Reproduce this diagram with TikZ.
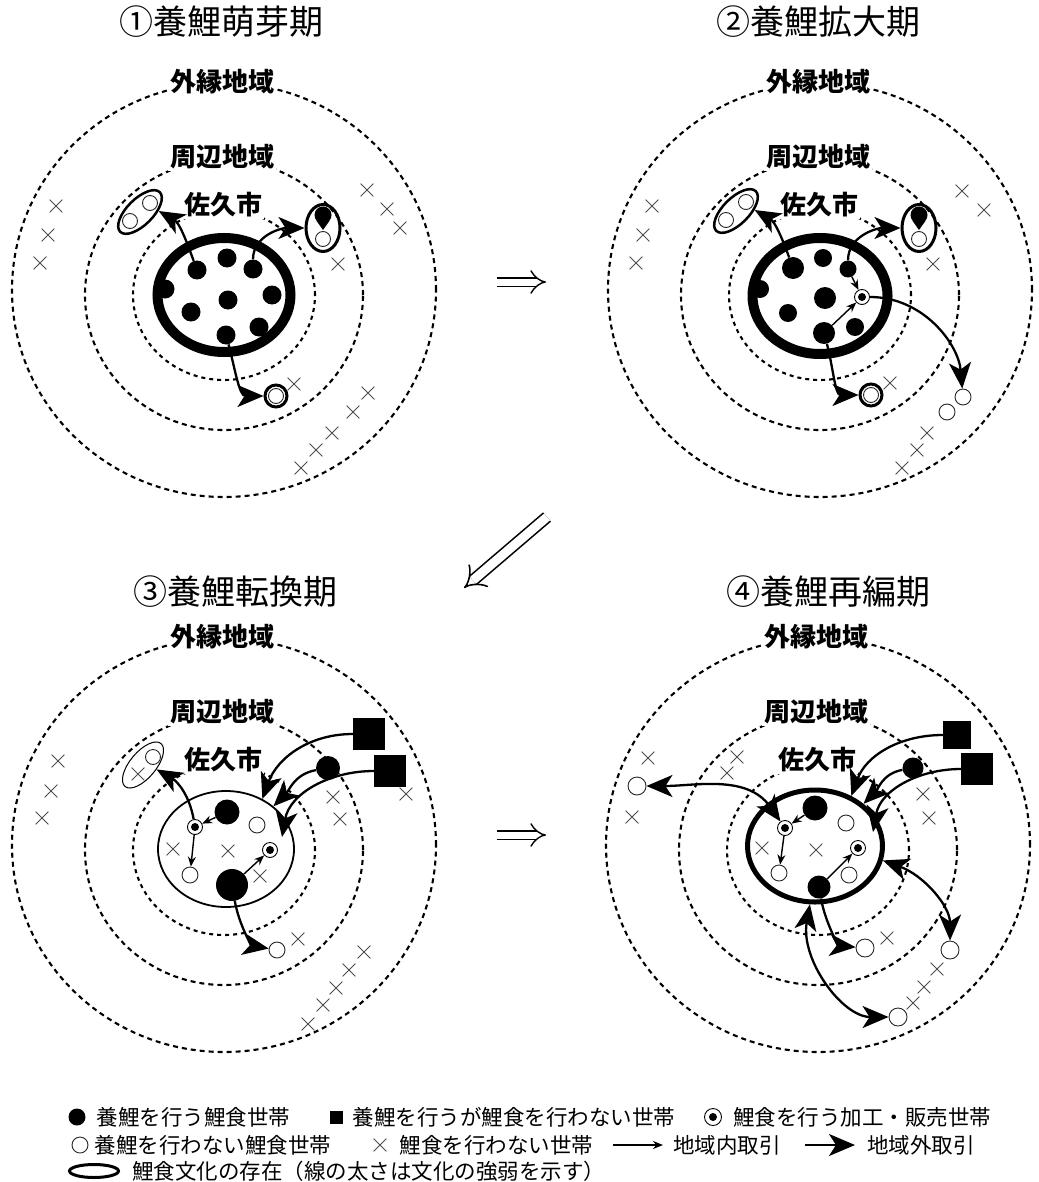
\documentclass[tikz,border=0pt]{standalone}
\usepackage{fontspec}
\newfontfamily\gothic{Noto Sans CJK JP}
\usetikzlibrary{arrows.meta,shapes.geometric,shapes.misc,positioning}

\tikzset{
  zoneline/.style={line width=2.1pt, dash pattern=on 5pt off 4pt},
  zonelabel/.style={fill=white, inner sep=2pt, font=\gothic\bfseries\fontsize{26}{26}\selectfont},
  paneltitle/.style={font=\gothic\fontsize{34}{34}\selectfont},
  legendtext/.style={inner sep=0pt, font=\gothic\fontsize{21.5}{21.5}\selectfont},
  city/.style={ellipse, draw, inner sep=0pt},
  carp/.style={circle, fill=black, inner sep=0pt, minimum size=19pt},
  eater/.style={circle, draw=black!85, fill=white, line width=0.9pt, inner sep=0pt, minimum size=16pt},
  shop/.style={circle, draw, fill=white, line width=0.9pt, inner sep=0pt, minimum size=15pt,
    path picture={\fill[black] (path picture bounding box.center) circle (4pt);}},
  farm/.style={rectangle, fill=black, inner sep=0pt, minimum size=32pt},
  nocarp/.style={cross out, draw=black!70, line width=0.8pt, inner sep=0pt, minimum size=12pt},
  culture/.style={ellipse, draw, inner sep=0pt},
  localarrow/.style={line width=1.4pt, -{Stealth[length=10pt,width=8pt]}},
  outarrow/.style={line width=2.3pt, -{Stealth[length=26pt,width=22pt,inset=7pt]}},
  bothways/.style={line width=2.3pt, {Stealth[length=26pt,width=22pt,inset=7pt]}-{Stealth[length=26pt,width=22pt,inset=7pt]}},
  nextstage/.style={double, double distance=7pt, line width=1.4pt, -{Implies}}
}

% the three zones of one panel
\newcommand\zones{%
  \draw[zoneline] (224,290) ellipse [x radius=212pt, y radius=207pt];
  \draw[zoneline] (224,295) ellipse [x radius=139pt, y radius=135pt];
  \draw[zoneline, dash pattern=on 4pt off 4pt] (224,295) ellipse [x radius=91pt, y radius=85pt];
  \node[zonelabel] (outerlbl) at (222,82) {外縁地域};
  \node[zonelabel] (midlbl) at (222,157) {周辺地域};
  \node[zonelabel] (citylbl) at (223,205) {佐久市};
}

\begin{document}
\begin{tikzpicture}[x=1pt, y=-1pt]
  \useasboundingbox (0,0) rectangle (1038,1182);

  % (1) 養鯉萌芽期
  \begin{scope}[name prefix=a-]
    \zones
    \node[paneltitle] (title) at (221,22) {①養鯉萌芽期};
    \node[city, line width=10pt, minimum width=133pt, minimum height=114pt] (city) at (224,295) {};
    \foreach \p [count=\i] in {(197,270),(227,258),(253,269),(165,289),(228,300),(272,295),(191,312),(259,327),(226,335)}
      \node[carp] (d\i) at \p {};
    \node[culture, line width=2.5pt, rotate=45, minimum width=56pt, minimum height=26pt] (ul) at (140,212) {};
    \node[eater, minimum size=15pt] (ul1) at (130,221) {};
    \node[eater, minimum size=15pt] (ul2) at (150,203) {};
    \node[culture, line width=3pt, minimum width=34pt, minimum height=47pt] (ur) at (323,228) {};
    \node[carp, minimum size=17pt] (ur1) at (323,215) {};
    \fill (ur1.-140) -- (323,230) -- (ur1.-40) -- cycle;
    \node[eater, minimum size=15pt] (ur2) at (323,239) {};
    \node[culture, line width=3pt, minimum size=22pt] (bc) at (276,396) {};
    \node[eater, minimum size=15pt] (bc1) at (276,396) {};
    \foreach \p [count=\i] in {(56,206),(48,235),(40,263),(367,190),(387,209),(400,228),(338,264),(294,384),(368,393),(353,412),(332,433),(316,450),(301,468)}
      \node[nocarp] (x\i) at \p {};
    \draw[outarrow] (d1) to[out=110, in=-30] (ul.-42);
    \draw[outarrow] (d3) to[out=90, in=180] (ur.west);
    \draw[outarrow] (d9) to[out=-75, in=180] (bc.west);
  \end{scope}

  % (2) 養鯉拡大期
  \begin{scope}[shift={(596,0)}, name prefix=b-]
    \zones
    \node[paneltitle] (title) at (222,22) {②養鯉拡大期};
    \node[city, line width=10pt, minimum width=135pt, minimum height=116pt] (city) at (224,296) {};
    \foreach \p/\s [count=\i] in {(197,268)/22pt,(227,258)/18pt,(252,269)/17pt,(164,289)/18pt,(229,298)/22pt,(192,313)/18pt,(259,327)/18pt,(228,333)/22pt}
      \node[carp, minimum size=\s] (d\i) at \p {};
    \node[shop] (pr) at (266,297) {};
    \node[culture, line width=2.5pt, rotate=45, minimum width=56pt, minimum height=26pt] (ul) at (140,211) {};
    \node[eater, minimum size=15pt] (ul1) at (130,220) {};
    \node[eater, minimum size=15pt] (ul2) at (150,202) {};
    \node[culture, line width=3pt, minimum width=34pt, minimum height=47pt] (ur) at (323,228) {};
    \node[carp, minimum size=17pt] (ur1) at (323,215) {};
    \fill (ur1.-140) -- (323,230) -- (ur1.-40) -- cycle;
    \node[eater, minimum size=15pt] (ur2) at (323,239) {};
    \node[culture, line width=3pt, minimum size=22pt] (bc) at (275,395) {};
    \node[eater, minimum size=15pt] (bc1) at (275,395) {};
    \node[eater] (o1) at (367,397) {};
    \node[eater] (o2) at (351,412) {};
    \foreach \p [count=\i] in {(56,206),(47,235),(40,263),(366,191),(388,210),(337,264),(294,383),(331,433),(321,450),(306,468)}
      \node[nocarp] (x\i) at \p {};
    \draw[localarrow] (d3) -- (pr);
    \draw[localarrow] (d8) -- (pr);
    \draw[outarrow] (d1) to[out=110, in=-30] (ul.-42);
    \draw[outarrow] (d3) to[out=90, in=180] (ur.west);
    \draw[outarrow] (d8) to[out=-75, in=180] (bc.west);
    \draw[outarrow] (pr) to[out=0, in=95] (o1);
  \end{scope}

  % (3) 養鯉転換期
  \begin{scope}[shift={(0,555)}, name prefix=c-]
    \zones
    \node[paneltitle] (title) at (235,37) {③養鯉転換期};
    \node[city, line width=1.8pt, minimum width=136pt, minimum height=116pt] (city) at (226,294) {};
    \node[carp, minimum size=25pt] (d1) at (227,257) {};
    \node[carp, minimum size=32pt] (d2) at (232,330) {};
    \node[shop] (p1) at (195,272) {};
    \node[shop] (p2) at (270,295) {};
    \node[eater] (o1) at (257,270) {};
    \node[eater] (o2) at (190,320) {};
    \node[eater] (o3) at (277,395) {};
    \node[farm] (s1) at (369,179) {};
    \node[farm] (s2) at (390,216) {};
    \node[carp, minimum size=24pt] (d3) at (328,213) {};
    \node[culture, line width=1pt, rotate=50, minimum width=56pt, minimum height=26pt] (ul) at (143,210) {};
    \node[eater, minimum size=15pt] (ul1) at (153,202) {};
    \node[nocarp] (ul2) at (138,219) {};
    \foreach \p [count=\i] in {(173,294),(228,296),(260,321),(58,206),(51,236),(42,263),(333,242),(340,264),(406,239),(298,384),(364,397),(349,415),(336,433),(323,450),(308,469)}
      \node[nocarp] (x\i) at \p {};
    \coordinate (t3) at (282,282);
    \draw[localarrow] (d1) -- (p1);
    \draw[localarrow] (p1) -- (o2);
    \draw[localarrow] (d2) -- (p2);
    \draw[outarrow] (p1) to[out=100, in=-30] (ul.-68);
    \draw[outarrow] (d2) to[out=-80, in=170] (o3);
    \draw[outarrow] (s1.west) to[out=180, in=70] (city.54);
    \draw[outarrow] (d3) to[out=190, in=45] (city.42);
    \draw[outarrow] (s2.west) to[out=180, in=80] (t3);
  \end{scope}

  % (4) 養鯉再編期
  \begin{scope}[shift={(594,555)}, name prefix=d-]
    \zones
    \node[paneltitle] (title) at (234,37) {④養鯉再編期};
    \node[city, line width=5pt, minimum width=135pt, minimum height=112pt] (city) at (221,291) {};
    \node[carp, minimum size=25pt] (d1) at (221,253) {};
    \node[carp, minimum size=23pt] (d2) at (225,332) {};
    \node[shop] (p1) at (191,273) {};
    \node[shop] (p2) at (264,293) {};
    \node[eater] (o1) at (252,268) {};
    \node[eater] (o2) at (185,318) {};
    \node[eater] (o3) at (255,320) {};
    \node[eater, minimum size=18pt] (o4) at (43,231) {};
    \node[eater, minimum size=18pt] (o5) at (356,395) {};
    \node[eater, minimum size=18pt] (o6) at (271,393) {};
    \node[eater, minimum size=18pt] (o7) at (304,462) {};
    \node[farm, minimum size=28pt] (s1) at (363,180) {};
    \node[farm] (s2) at (383,214) {};
    \node[carp, minimum size=21pt] (d3) at (319,213) {};
    \foreach \p [count=\i] in {(168,293),(222,295),(54,203),(38,262),(143,202),(133,218),(329,239),(335,263),(293,383),(343,414),(330,432),(319,448)}
      \node[nocarp] (x\i) at \p {};
    \coordinate (t3) at (279,277);
    \draw[localarrow] (d1) -- (p1);
    \draw[localarrow] (p1) -- (o2);
    \draw[localarrow] (d2) -- (p2);
    \draw[bothways] (p1) to[out=125, in=0] (o4);
    \draw[bothways] (city.-12) to[out=-20, in=90] (o5);
    \draw[bothways] (city.-95) to[out=-100, in=180] (o7);
    \draw[outarrow] (d2) to[out=-80, in=175] (o6);
    \draw[outarrow] (s1.west) to[out=180, in=70] (city.54);
    \draw[outarrow] (d3) to[out=190, in=45] (city.41);
    \draw[outarrow] (s2.west) to[out=180, in=80] (t3);
  \end{scope}

  % stage arrows
  \coordinate (go1a) at (497,282);
  \coordinate (go1b) at (546,282);
  \coordinate (go2a) at (547,517);
  \coordinate (go2b) at (464,588);
  \coordinate (go3a) at (497,835);
  \coordinate (go3b) at (546,835);
  \draw[nextstage] (go1a) -- (go1b);
  \draw[nextstage, double distance=9pt, line width=1.6pt] (go2a) -- (go2b);
  \draw[nextstage] (go3a) -- (go3b);

  % legend
  \node[carp, minimum size=17pt] (keyA) at (77,1117) {};
  \node[legendtext, right=11pt of keyA] (txtA) {養鯉を行う鯉食世帯};
  \node[farm, minimum size=13pt] (keyB) at (336,1117) {};
  \node[legendtext, right=10pt of keyB] (txtB) {養鯉を行うが鯉食を行わない世帯};
  \node[shop, minimum size=17pt] (keyC) at (713,1117) {};
  \node[legendtext, right=11pt of keyC] (txtC) {鯉食を行う加工・販売世帯};
  \node[eater, minimum size=16pt] (keyD) at (80,1145) {};
  \node[legendtext, right=6pt of keyD] (txtD) {養鯉を行わない鯉食世帯};
  \node[nocarp] (keyE) at (380,1145) {};
  \node[legendtext, right=13pt of keyE] (txtE) {鯉食を行わない世帯};
  \coordinate (keyF1) at (613,1145);
  \coordinate (keyF2) at (663,1145);
  \draw[localarrow] (keyF1) -- (keyF2);
  \node[legendtext, right=10pt of keyF2] (txtF) {地域内取引};
  \coordinate (keyG1) at (805,1145);
  \coordinate (keyG2) at (855,1145);
  \draw[outarrow] (keyG1) -- (keyG2);
  \node[legendtext, right=12pt of keyG2] (txtG) {地域外取引};
  \node[culture, line width=3pt, minimum width=49pt, minimum height=13pt] (keyH) at (94,1171) {};
  \node[legendtext, right=12pt of keyH] (txtH) {鯉食文化の存在（線の太さは文化の強弱を示す）};
\end{tikzpicture}
\end{document}
